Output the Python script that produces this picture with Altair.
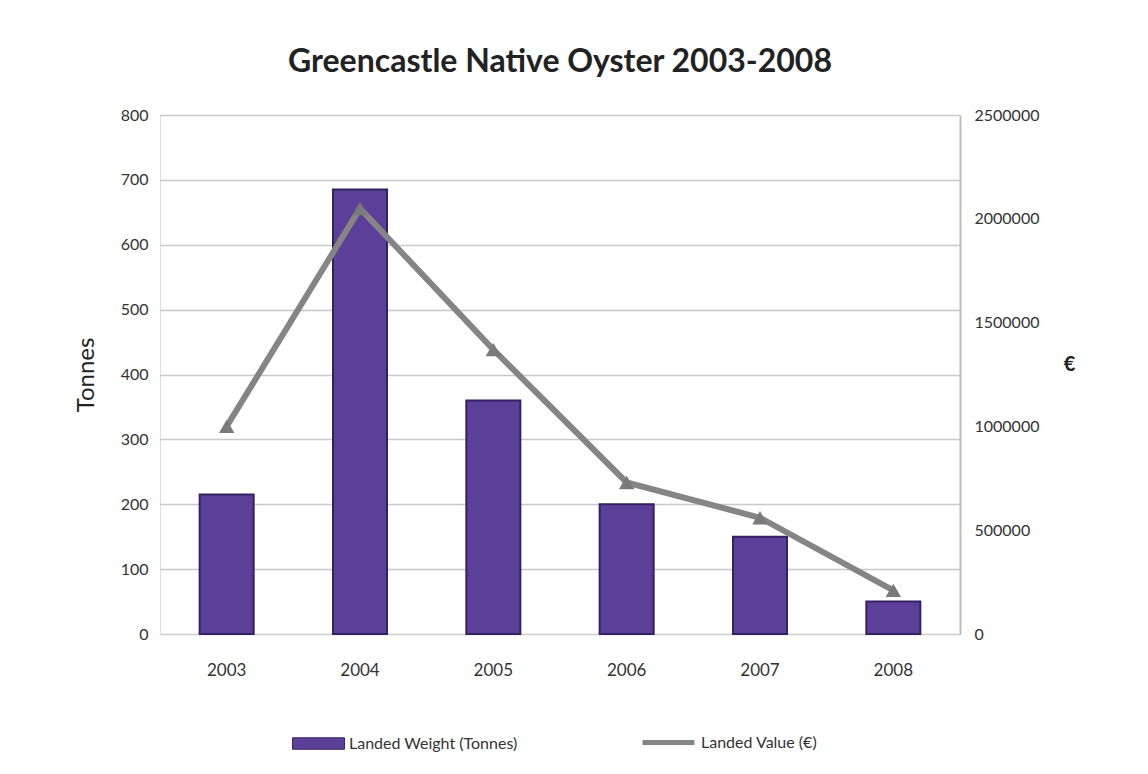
import altair as alt
import pandas as pd

years = ["2003", "2004", "2005", "2006", "2007", "2008"]
weight_tonnes = [215, 685, 360, 200, 150, 50]
value_eur = [1000000, 2050000, 1370000, 730000, 560000, 210000]
series_names = ["Landed Weight (Tonnes)", "Landed Value (€)"]

df = pd.DataFrame({"year": years, "weight": weight_tonnes, "value": value_eur})

FONT = "Lato"

x = alt.X("year:O", title=None, axis=alt.Axis(labelAngle=0, labelFontSize=17, labelColor="#333",
                                              labelFont=FONT, labelPadding=28, ticks=False,
                                              domain=True, domainColor="#cfcfcf"))

bars = alt.Chart(df).transform_calculate(s1=f"'{series_names[0]}'").mark_bar(
    size=54, stroke="#35215f", strokeWidth=2).encode(
    x=x,
    y=alt.Y("weight:Q", title="Tonnes",
            scale=alt.Scale(domain=[0, 800], nice=False),
            axis=alt.Axis(values=list(range(0, 801, 100)), grid=True, gridColor="#c8c8c8",
                          gridWidth=1.5, domain=False, ticks=False, labelFontSize=16,
                          labelColor="#333", labelFont=FONT, labelPadding=12,
                          titleFontSize=24, titleFont=FONT, titleFontWeight="normal",
                          titleColor="#222", titlePadding=22)),
    fill=alt.Fill("s1:N",
                  scale=alt.Scale(domain=[series_names[0]], range=["#5c3f98"]),
                  legend=alt.Legend(title=None, orient="none", legendX=132, legendY=602,
                                    symbolType="M-1,-0.22H1V0.22H-1Z", symbolSize=2700,
                                    symbolStrokeColor="#35215f", symbolStrokeWidth=1,
                                    labelFontSize=16, labelFont=FONT, labelColor="#333",
                                    labelLimit=400, labelOffset=4)),
)

line_base = alt.Chart(df).transform_calculate(s2=f"'{series_names[1]}'").encode(
    x=x,
    y=alt.Y("value:Q", title="€",
            scale=alt.Scale(domain=[0, 2500000], nice=False),
            axis=alt.Axis(orient="right", values=list(range(0, 2500001, 500000)), format="d",
                          grid=False, domain=True, domainColor="#bdbdbd", domainWidth=2,
                          ticks=False, labelFontSize=16, labelColor="#333", labelFont=FONT,
                          labelPadding=14, titleAngle=0, titleFontSize=20, titleFont=FONT,
                          titleFontWeight="bold", titleColor="#222", titlePadding=30)),
)

line = line_base.mark_line(strokeWidth=6).encode(
    stroke=alt.Stroke("s2:N",
                      scale=alt.Scale(domain=[series_names[1]], range=["#858585"]),
                      legend=alt.Legend(title=None, orient="none", legendX=480, legendY=599,
                                        symbolType="stroke", symbolSize=2700,
                                        symbolStrokeWidth=5, labelFontSize=16,
                                        labelFont=FONT, labelColor="#333",
                                        labelLimit=400, labelOffset=4)),
)
points = line_base.mark_point(shape="triangle-up", size=240, filled=True, color="#7a7a7a",
                              opacity=1)

chart = alt.layer(bars, line + points).resolve_scale(y="independent").properties(
    width=800,
    height=519,
    padding={"left": 152, "top": 107, "right": 180, "bottom": 132},
    autosize=alt.AutoSizeParams(type="none"),
    title=alt.TitleParams("Greencastle Native Oyster 2003-2008", fontSize=32, font=FONT,
                          fontWeight="bold", color="#222", offset=28, anchor="middle"),
).configure_view(stroke=None).configure(background="white")

chart.save("out.html", embed_options={"renderer": "svg", "actions": False})
